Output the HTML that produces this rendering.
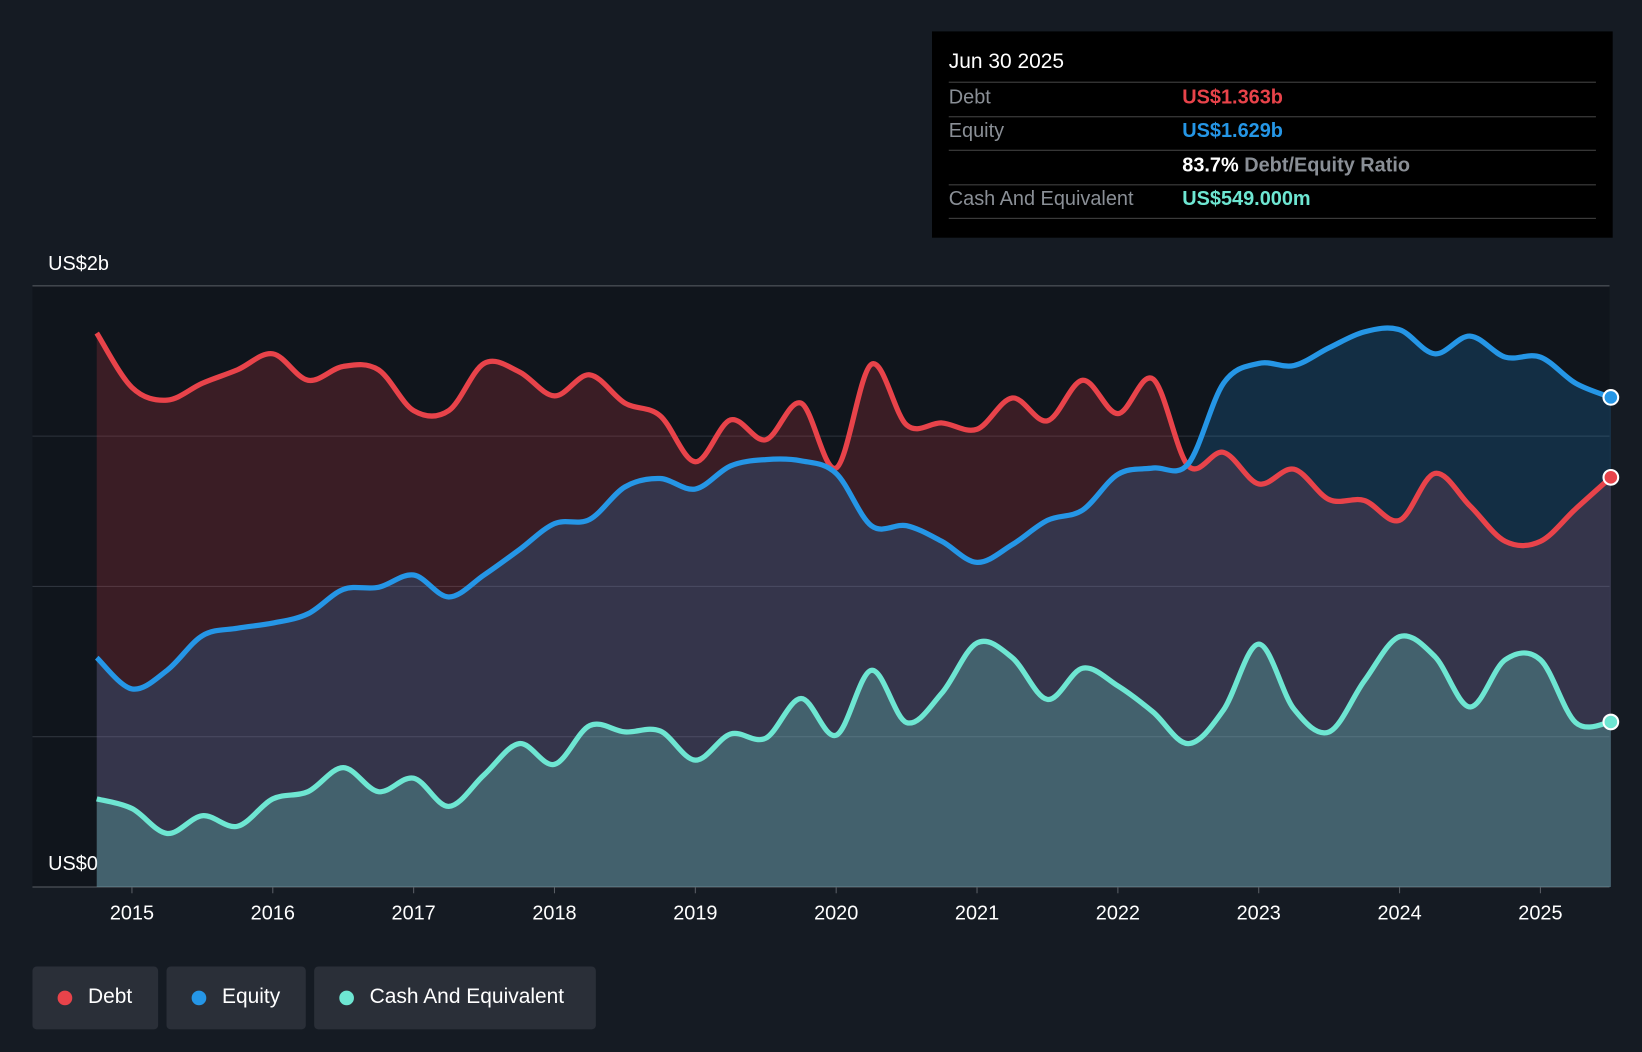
<!DOCTYPE html>
<html><head><meta charset="utf-8"><style>
body{margin:0;background:#151b23;font-family:"Liberation Sans",sans-serif;overflow:hidden;width:1642px;height:1052px}
#wrap{position:relative;width:1568px;height:1005px;overflow:hidden;transform:scale(1.04719);transform-origin:0 0}
.tt{position:absolute;left:890px;top:30px;width:650px;height:197px;background:#000;color:#fff}
.row{position:absolute;left:16px;right:16px;font-size:19px;border-bottom:1px solid #444;height:32px}
.lbl{position:absolute;left:0;top:4px;color:#8a8f96}
.val{position:absolute;left:223px;top:4px;font-weight:bold}
.leg{position:absolute;top:923px;height:60px;background:#2a2f38;border-radius:4px;color:#fff;font-size:20px}
.leg span.dot{position:absolute;left:24px;top:23px;width:14px;height:14px;border-radius:7px}
.leg span.t{position:absolute;left:53px;top:18px}
</style></head><body>
<div id="wrap">
<svg id="chart" width="1568" height="1005" style="position:absolute;left:0;top:0"></svg>
<div class="tt">
 <div style="position:absolute;left:16px;top:18px;font-size:20px">Jun 30 2025</div>
 <div class="row" style="top:48px;border-top:1px solid #444"><span class="lbl">Debt</span><span class="val" style="color:#e8434a">US$1.363b</span></div>
 <div class="row" style="top:81px"><span class="lbl">Equity</span><span class="val" style="color:#2596e6">US$1.629b</span></div>
 <div class="row" style="top:114px"><span class="val" style="color:#fff">83.7% <span style="color:#8a8f96">Debt/Equity Ratio</span></span></div>
 <div class="row" style="top:146px"><span class="lbl">Cash And Equivalent</span><span class="val" style="color:#6ee6d2">US$549.000m</span></div>
</div>
<div class="leg" style="left:31px;width:120px"><span class="dot" style="background:#e8434a"></span><span class="t">Debt</span></div>
<div class="leg" style="left:159px;width:133px"><span class="dot" style="background:#2596e6"></span><span class="t">Equity</span></div>
<div class="leg" style="left:300px;width:269px"><span class="dot" style="background:#6ee6d2"></span><span class="t">Cash And Equivalent</span></div>
</div>
<script>
const startYear=2014.75, stepYear=0.25;
const debt=[1.843,1.662,1.620,1.676,1.721,1.774,1.686,1.732,1.721,1.585,1.585,1.742,1.714,1.634,1.704,1.610,1.568,1.415,1.554,1.488,1.610,1.394,1.739,1.537,1.544,1.523,1.627,1.551,1.686,1.575,1.690,1.401,1.446,1.341,1.390,1.289,1.286,1.220,1.376,1.268,1.150,1.150,1.258,1.363];
const equity=[0.763,0.659,0.721,0.836,0.861,0.878,0.909,0.990,0.997,1.038,0.965,1.038,1.122,1.209,1.223,1.331,1.359,1.324,1.401,1.422,1.418,1.376,1.202,1.202,1.150,1.080,1.139,1.220,1.254,1.373,1.394,1.408,1.676,1.742,1.735,1.794,1.847,1.854,1.774,1.833,1.763,1.763,1.676,1.629];
const cash=[0.293,0.261,0.178,0.237,0.202,0.293,0.317,0.397,0.317,0.362,0.268,0.373,0.477,0.408,0.537,0.516,0.519,0.422,0.509,0.495,0.627,0.505,0.721,0.547,0.645,0.812,0.763,0.624,0.728,0.669,0.582,0.477,0.589,0.808,0.592,0.516,0.686,0.833,0.767,0.599,0.756,0.756,0.547,0.549];
const xTicks=[2015,2016,2017,2018,2019,2020,2021,2022,2023,2024,2025];
const yGrid=[0,0.5,1,1.5,2];
const svg=document.getElementById('chart');const NS='http://www.w3.org/2000/svg';
const X=t=>126+(t-2015)*134.5, Y=v=>847-v*287;
function mk(tag,attrs,parent){const e=document.createElementNS(NS,tag);for(const k in attrs)e.setAttribute(k,attrs[k]);(parent||svg).appendChild(e);return e;}
let e=mk('rect',{x:31,y:273,width:1506,height:574,fill:'#10151c'});


yGrid.forEach(v=>{const g=mk('line',{x1:31,x2:1537,y1:Y(v),y2:Y(v),stroke:v==0||v==2?'#5a5f66':'#2e343d','stroke-width':1});

});
let yl=mk('text',{x:46,y:258,fill:'#fff','font-size':19,'font-family':'Liberation Sans'});yl.textContent='US$2b';


yl=mk('text',{x:46,y:831,fill:'#fff','font-size':19,'font-family':'Liberation Sans'});yl.textContent='US$0';


xTicks.forEach(t=>{mk('line',{x1:X(t),x2:X(t),y1:847,y2:853,stroke:'#5a5f66'});const tx=mk('text',{x:X(t),y:878,fill:'#fff','font-size':19,'text-anchor':'middle','font-family':'Liberation Sans'});tx.textContent=t;

});
function pts(arr){return arr.map((v,i)=>[X(startYear+i*stepYear),Y(v)]);}
function path(p){let d='M'+p[0][0]+','+p[0][1];for(let i=0;i<p.length-1;i++){const p0=p[i-1]||p[i],p1=p[i],p2=p[i+1],p3=p[i+2]||p2;const c1=[p1[0]+(p2[0]-p0[0])/6,p1[1]+(p2[1]-p0[1])/6],c2=[p2[0]-(p3[0]-p1[0])/6,p2[1]-(p3[1]-p1[1])/6];d+=`C${c1[0]},${c1[1]} ${c2[0]},${c2[1]} ${p2[0]},${p2[1]}`;}return d;}
const series=[[debt,'#e8434a','rgba(232,67,74,0.2)','debt'],[equity,'#2596e6','rgba(37,150,230,0.2)','equity'],[cash,'#6ee6d2','rgba(110,230,210,0.25)','cash']];
series.forEach(s=>{const p=pts(s[0]);const d=path(p);const a=mk('path',{d:d+`L${p[p.length-1][0]},847L${p[0][0]},847Z`,fill:s[2]});

});
series.forEach(s=>{const p=pts(s[0]);const l=mk('path',{d:path(p),fill:'none',stroke:s[1],'stroke-width':5,'stroke-linejoin':'round'});


const q=p[p.length-1];const c=mk('circle',{cx:q[0],cy:q[1],r:7,fill:s[1],stroke:'#fff','stroke-width':2});

});
</script>
</body></html>
